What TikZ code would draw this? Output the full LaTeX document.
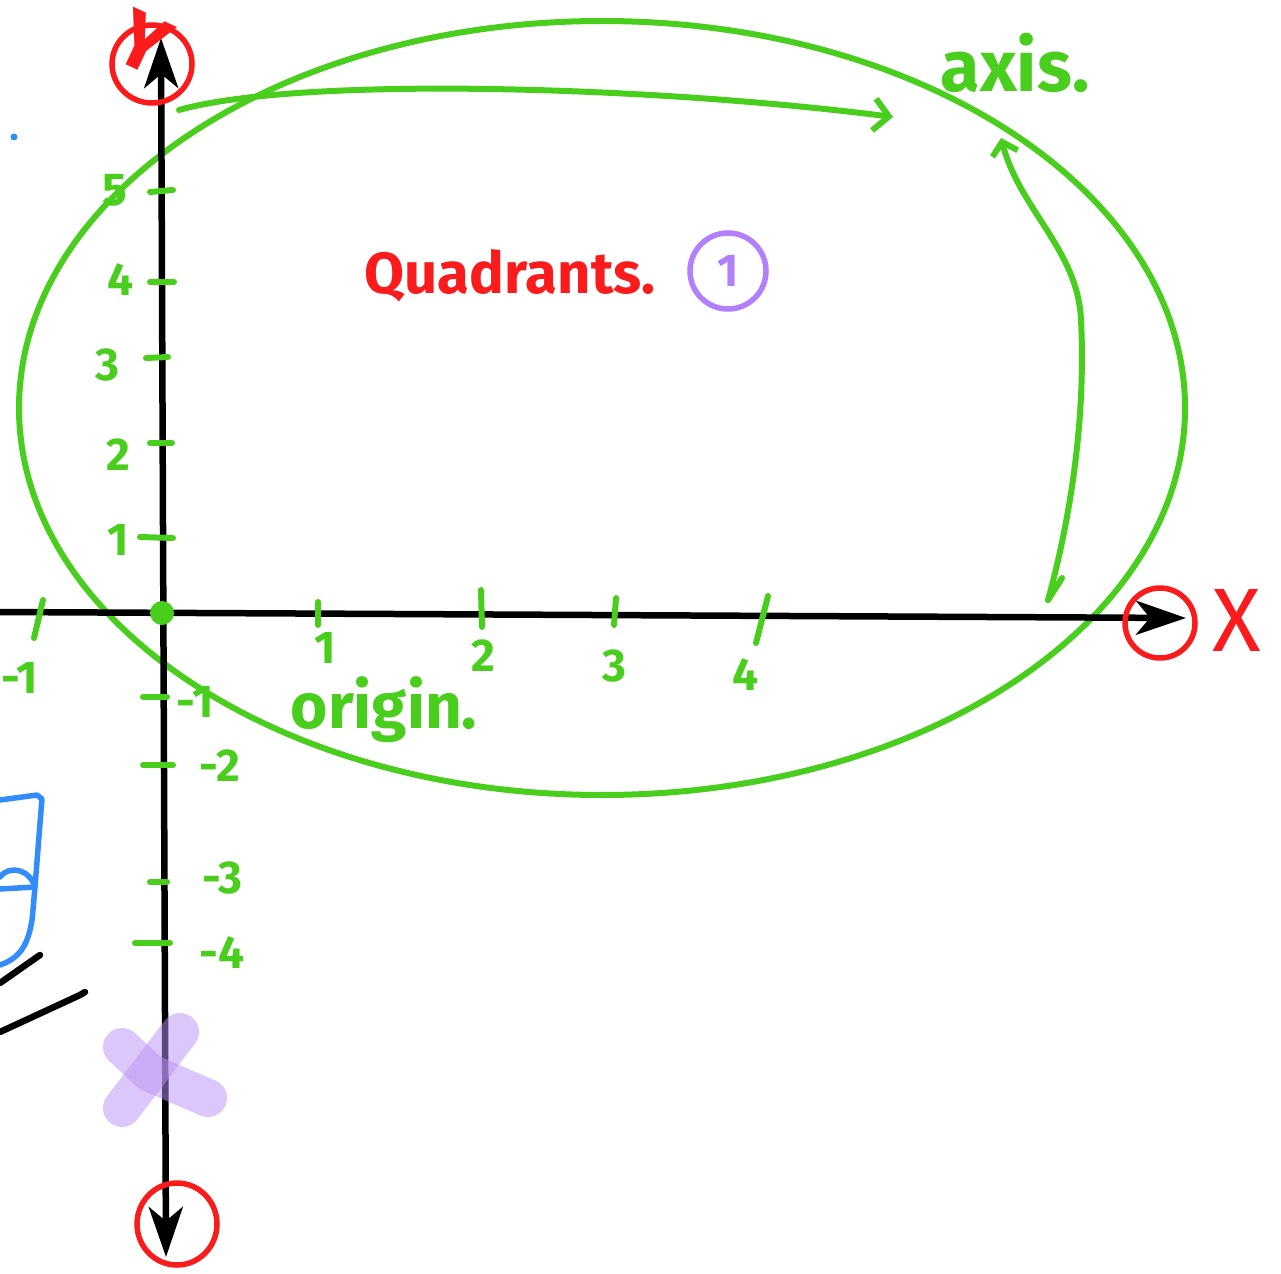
\documentclass[tikz,border=0pt]{standalone}
\usepackage{fontspec}
\setmainfont{Fira Sans}
\usetikzlibrary{arrows.meta}
\definecolor{gr}{RGB}{74,206,30}
\definecolor{rd}{RGB}{250,28,28}
\definecolor{pu}{RGB}{178,128,250}
\definecolor{bl}{RGB}{50,140,250}
\definecolor{lav}{RGB}{185,145,245}
\newcommand{\myfs}[1]{\fontsize{#1}{#1}\selectfont}
\tikzset{
  axtip/.tip={Stealth[length=50pt,width=34pt,inset=14pt]},
  gtip/.tip={Straight Barb[length=15pt,width=32pt]},
  gsmalltip/.tip={Straight Barb[length=12pt,width=26pt]}
}
\begin{document}
\begin{tikzpicture}[x=1pt,y=-1pt,
  gline/.style={draw=gr, line width=6pt, line cap=round, line join=round},
  rline/.style={draw=rd, line width=5.5pt, line cap=round},
  bline/.style={draw=bl, line width=5.5pt, line cap=round, line join=round},
  kline/.style={draw=black, line width=6.5pt, line cap=round},
  axisline/.style={draw=black, line width=6.5pt},
  glabel/.style={text=gr, inner sep=0pt, font=\myfs{46pt}\bfseries},
  purplemark/.style={draw=lav, line width=38pt, line cap=round, line join=round, draw opacity=0.5}
]
\useasboundingbox (0,0) rectangle (1281,1273);
\fill[white] (0,0) rectangle (1281,1273);

% named points
\coordinate (ytop) at (161,38);
\coordinate (ybot) at (166,1257);
\coordinate (xleft) at (0,612);
\coordinate (xright) at (1186,618);
\coordinate (a1s) at (179,110);
\coordinate (a1e) at (893,117);
\coordinate (a2s) at (1048,600);
\coordinate (a2m) at (1081,320);
\coordinate (a2e) at (1001,138);

% green ellipse
\draw[gline] (602,408) ellipse [x radius=583pt, y radius=387pt];

% axes
\draw[axisline, axtip-axtip] (ybot) -- (ytop);
\draw[axisline, -axtip] (xleft) -- (xright);

% origin dot
\node[circle, fill=gr, minimum size=24pt, inner sep=0pt] (origin) at (162,613) {};

% y ticks
\draw[gline] (150,192) -- (173,190);
\draw[gline] (150,282) -- (174,282);
\draw[gline] (146,358) -- (168,357);
\draw[gline] (150,443) -- (172,443);
\draw[gline] (140,537) -- (173,538);
\draw[gline] (143,697) -- (167,697);
\draw[gline] (143,765) -- (173,765);
\draw[gline] (150,882) -- (167,882);
\draw[gline] (135,943) -- (170,943);

% x ticks
\draw[gline] (43,600) -- (34,638);
\draw[gline] (318,602) -- (318,625);
\draw[gline] (481,590) -- (482,627);
\draw[gline] (616,598) -- (614,625);
\draw[gline] (768,596) -- (756,643);

% y labels
\node[glabel] (y5) at (115,190) {5};
\node[glabel] (y4) at (120,280) {4};
\node[glabel] (y3) at (107,365) {3};
\node[glabel] (y2) at (118,455) {2};
\node[glabel] (y1) at (118,540) {1};
\node[glabel] (ym1) at (195,702) {-1};
\node[glabel] (ym2) at (220,766) {-2};
\node[glabel] (ym3) at (222,878) {-3};
\node[glabel] (ym4) at (222,953) {-4};

% x labels
\node[glabel, anchor=west] (xm1) at (1,678) {-1};
\node[glabel] (x1) at (325,648) {1};
\node[glabel] (x2) at (483,656) {2};
\node[glabel] (x3) at (614,666) {3};
\node[glabel] (x4) at (745,675) {4};

% words
\node[text=gr, inner sep=0pt, font=\myfs{64pt}\bfseries, anchor=base] (origintxt) at (384,728) {origin.};
\node[text=gr, inner sep=0pt, font=\myfs{72pt}\bfseries] (axistxt) at (1015,63) {axis.};
\node[text=rd, inner sep=0pt, font=\myfs{58pt}\bfseries] (quad) at (510,276) {Quadrants.};
\node[circle, draw=pu, line width=5.5pt, minimum size=76pt, inner sep=0pt, text=pu, font=\myfs{46pt}\bfseries] (q1) at (728,271) {1};

% red circles and labels
\draw[rline] (152,64) ellipse [x radius=40pt, y radius=39pt];
\node[text=rd, inner sep=0pt, font=\myfs{80pt}\bfseries, rotate=-25] (ylab) at (144,42) {Y};
\draw[rline] (1160,623) circle [radius=35pt];
\node[text=rd, inner sep=0pt, font=\myfs{90pt}] (xlab) at (1237,620) {X};
\draw[rline] (177,1224) ellipse [x radius=40pt, y radius=41pt];

% green arrows
\draw[gline, -gtip] (a1s) .. controls (300,76) and (650,86) .. (a1e);
\draw[gline, -gsmalltip] (a2s) .. controls (1070,520) and (1086,420) .. (a2m) .. controls (1078,250) and (1020,210) .. (a2e);
\draw[gline] (1062,578) -- (a2s);

% left-edge fragments
\fill[bl] (14,137) circle [radius=3.5pt];
\draw[bline] (0,800) -- (37,795) -- (42,799) .. controls (38,847) and (35,890) .. (32,920) .. controls (28,945) and (20,958) .. (0,965);
\draw[bline] (0,889) -- (35,887) .. controls (30,870) and (10,864) .. (0,877);
\draw[kline] (0,983) -- (40,955);
\draw[kline] (0,1032) -- (80,995) -- (85,992);

% purple highlighter mark
\draw[purplemark] (180,1032) -- (122,1108);
\draw[purplemark] (122,1047) -- (150,1073) -- (208,1098);
\end{tikzpicture}
\end{document}
